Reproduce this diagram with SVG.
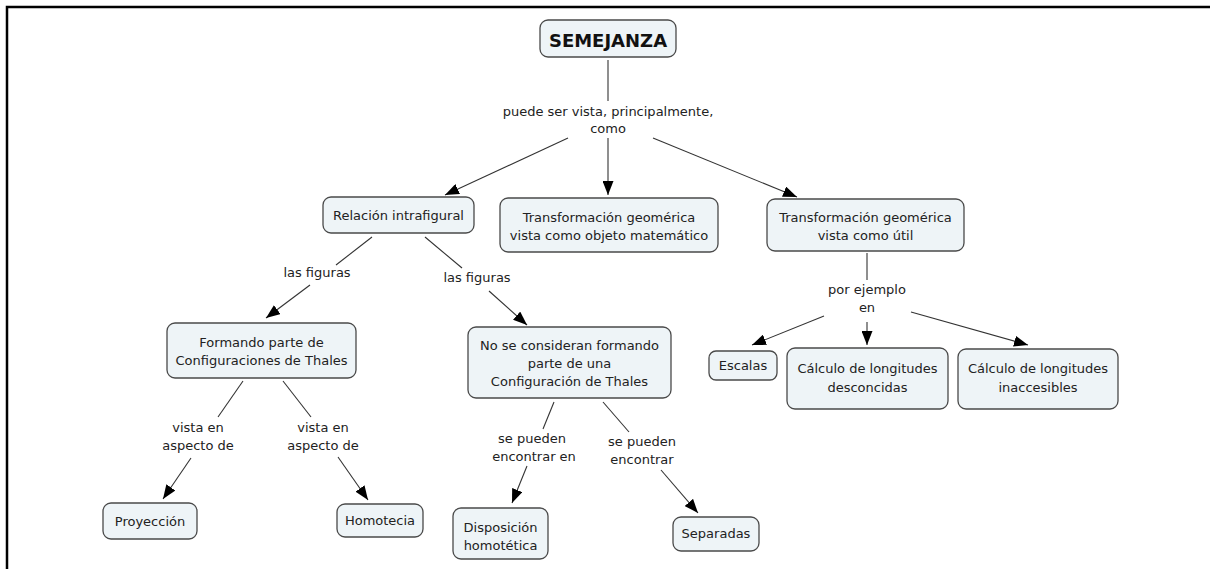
<svg xmlns="http://www.w3.org/2000/svg" width="1210" height="569" viewBox="0 0 1210 569">
<defs>
<marker id="ah" markerUnits="userSpaceOnUse" markerWidth="14" markerHeight="11" refX="14" refY="5.5" orient="auto">
<path d="M0,0 L14,5.5 L0,11 z" fill="#000"/>
</marker>
<style>
.n rect{fill:#eef4f7;stroke:#4a4a4a;stroke-width:1.3}
text{font-family:"DejaVu Sans",Verdana,sans-serif;font-size:13px;fill:#222;text-anchor:middle}
.b{font-weight:bold;font-size:18px;fill:#111}
#links line{stroke:#333;stroke-width:1.1}
#links line.a{marker-end:url(#ah)}
</style>
</defs>
<rect width="1210" height="569" fill="#fff"/>
<path d="M7,569 V7 H1210" fill="none" stroke="#000" stroke-width="2.5"/>
<g id="links">
<line x1="608" y1="60" x2="608" y2="101"/>
<line class="a" x1="568" y1="138" x2="445" y2="195"/>
<line class="a" x1="608" y1="138" x2="608" y2="195"/>
<line class="a" x1="653" y1="138" x2="797" y2="197"/>
<line x1="372" y1="237" x2="336" y2="265"/>
<line class="a" x1="310" y1="285" x2="266" y2="318"/>
<line x1="425" y1="237" x2="462" y2="268"/>
<line class="a" x1="489" y1="291" x2="527" y2="325"/>
<line x1="867" y1="253" x2="867" y2="280"/>
<line class="a" x1="824" y1="316" x2="752" y2="345"/>
<line class="a" x1="867" y1="322" x2="867" y2="345"/>
<line class="a" x1="911" y1="312" x2="1028" y2="345"/>
<line x1="243" y1="381" x2="218" y2="417"/>
<line class="a" x1="191" y1="458" x2="163" y2="499"/>
<line x1="283" y1="381" x2="311" y2="417"/>
<line class="a" x1="338" y1="457" x2="368" y2="500"/>
<line x1="554" y1="402" x2="543" y2="429"/>
<line class="a" x1="527" y1="466" x2="512" y2="503"/>
<line x1="603" y1="402" x2="629" y2="432"/>
<line class="a" x1="661" y1="470" x2="698" y2="513"/>
</g>
<g id="labels">
<text x="608" y="116">puede ser vista, principalmente,</text>
<text x="608" y="133">como</text>
<text x="317" y="277">las figuras</text>
<text x="477" y="282">las figuras</text>
<text x="867" y="294">por ejemplo</text>
<text x="867" y="312">en</text>
<text x="198" y="432">vista en</text>
<text x="198" y="450">aspecto de</text>
<text x="323" y="432">vista en</text>
<text x="323" y="450">aspecto de</text>
<text x="532" y="443">se pueden</text>
<text x="534" y="461">encontrar en</text>
<text x="642" y="446">se pueden</text>
<text x="642" y="464">encontrar</text>
</g>
<g id="semejanza" class="n"><rect x="540" y="20" width="136" height="37" rx="8"/><text class="b" x="608" y="46.5">SEMEJANZA</text></g>
<g id="relacion" class="n"><rect x="323" y="197" width="151" height="36" rx="8"/><text x="398.5" y="220">Relación intrafigural</text></g>
<g id="transf-objeto" class="n"><rect x="500" y="198" width="218" height="54" rx="8"/><text x="609" y="221.5">Transformación geomérica</text><text x="609" y="239.5">vista como objeto matemático</text></g>
<g id="transf-util" class="n"><rect x="767" y="199" width="197" height="52" rx="8"/><text x="865.5" y="222">Transformación geomérica</text><text x="865.5" y="240">vista como útil</text></g>
<g id="formando" class="n"><rect x="167" y="323" width="189" height="55" rx="8"/><text x="261.5" y="346.5">Formando parte de</text><text x="261.5" y="364.5">Configuraciones de Thales</text></g>
<g id="noconsideran" class="n"><rect x="468" y="327" width="203" height="71" rx="8"/><text x="569.5" y="349.5">No se consideran formando</text><text x="569.5" y="367.5">parte de una</text><text x="569.5" y="386">Configuración de Thales</text></g>
<g id="escalas" class="n"><rect x="709" y="351" width="68" height="29" rx="7"/><text x="743" y="370">Escalas</text></g>
<g id="desconocidas" class="n"><rect x="787" y="348" width="161" height="61" rx="8"/><text x="867.5" y="372.5">Cálculo de longitudes</text><text x="867.5" y="392">desconcidas</text></g>
<g id="inaccesibles" class="n"><rect x="958" y="349" width="160" height="60" rx="8"/><text x="1038" y="372.5">Cálculo de longitudes</text><text x="1038" y="392">inaccesibles</text></g>
<g id="proyeccion" class="n"><rect x="103" y="503" width="94" height="36" rx="8"/><text x="150" y="525.5">Proyección</text></g>
<g id="homotecia" class="n"><rect x="337" y="504" width="86" height="33" rx="8"/><text x="380" y="524.5">Homotecia</text></g>
<g id="disposicion" class="n"><rect x="453" y="508" width="95" height="51" rx="8"/><text x="500.5" y="531.5">Disposición</text><text x="500.5" y="549.5">homotética</text></g>
<g id="separadas" class="n"><rect x="673" y="517" width="86" height="34" rx="8"/><text x="716" y="537.5">Separadas</text></g>
</svg>
